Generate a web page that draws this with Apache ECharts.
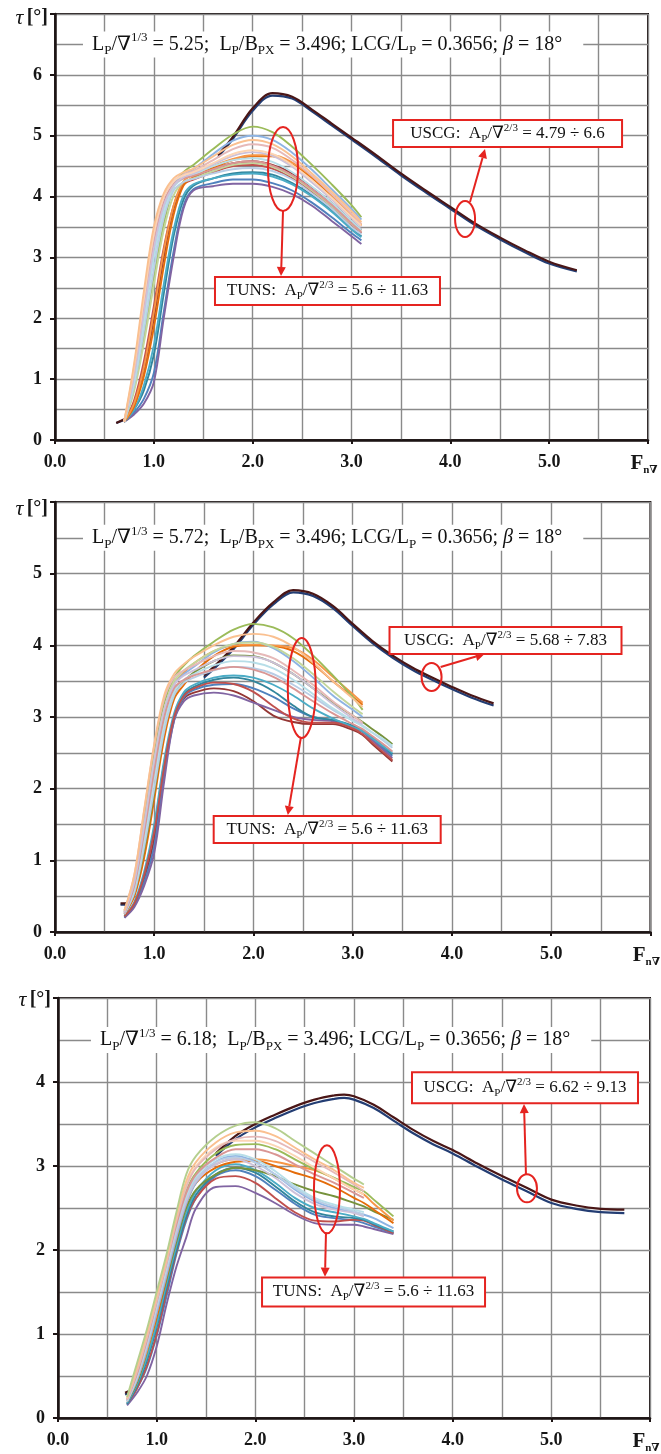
<!DOCTYPE html>
<html><head><meta charset="utf-8">
<script src="https://cdn.jsdelivr.net/npm/echarts@6/dist/echarts.min.js"></script>
<style>html,body{margin:0;padding:0;background:#fff}#c{width:661px;height:1454px}</style>
</head><body><div id="c"></div>
<script>
// ---------------- DATA ----------------
const xTicksLabels = ['0.0','1.0','2.0','3.0','4.0','5.0'];
const lpRatios = ['5.25','5.72','6.18'];
const uscgRanges = ['4.79 ÷ 6.6','5.68 ÷ 7.83','6.62 ÷ 9.13'];
const tunsRange = '5.6 ÷ 11.63';

// Panel 1 (Lp/V^1/3 = 5.25)
const X1 = [0.7,0.8,0.9,1.0,1.1,1.2,1.3,1.4,1.6,1.8,2.0,2.2,2.4,2.6,2.8,3.0,3.1];
const T1 = [
 [0.3,0.6,1.15,2.0,3.0,3.8,4.2,4.3,4.45,4.55,4.58,4.52,4.38,4.15,3.9,3.6,3.45],
 [0.3,0.45,0.68,1.1,2.1,3.1,3.85,4.12,4.22,4.28,4.28,4.22,4.1,3.9,3.66,3.4,3.28],
 [0.3,0.42,0.6,0.95,2.0,3.0,3.8,4.1,4.17,4.21,4.21,4.16,4.04,3.85,3.6,3.35,3.22],
 [0.3,0.5,0.82,1.4,2.4,3.35,3.95,4.18,4.3,4.38,4.4,4.36,4.22,4.02,3.78,3.48,3.35],
 [0.3,0.5,0.9,1.55,2.55,3.45,4.02,4.2,4.3,4.36,4.38,4.33,4.2,4.0,3.75,3.46,3.33],
 [0.3,0.65,1.3,2.2,3.15,3.85,4.2,4.28,4.4,4.5,4.52,4.46,4.3,4.08,3.82,3.52,3.4],
 [0.3,0.55,1.05,1.85,2.85,3.7,4.18,4.32,4.47,4.6,4.66,4.66,4.53,4.3,4.0,3.68,3.52],
 [0.3,0.6,1.2,2.1,3.1,3.85,4.25,4.36,4.5,4.62,4.68,4.68,4.56,4.33,4.03,3.7,3.54],
 [0.3,0.85,1.7,2.7,3.55,4.15,4.4,4.52,4.78,5.02,5.15,5.06,4.82,4.52,4.2,3.86,3.66],
 [0.3,1.0,2.0,3.0,3.75,4.2,4.36,4.45,4.7,4.92,5.0,4.93,4.72,4.44,4.12,3.8,3.62],
 [0.3,0.8,1.6,2.55,3.45,4.02,4.24,4.3,4.42,4.52,4.55,4.49,4.33,4.1,3.84,3.55,3.42],
 [0.3,0.9,1.8,2.8,3.65,4.1,4.24,4.29,4.38,4.45,4.47,4.42,4.28,4.05,3.8,3.5,3.38],
 [0.3,0.95,1.95,3.0,3.75,4.15,4.3,4.36,4.5,4.6,4.63,4.57,4.4,4.16,3.9,3.6,3.45],
 [0.3,1.1,2.2,3.25,3.9,4.2,4.3,4.34,4.45,4.55,4.58,4.51,4.35,4.12,3.86,3.56,3.42],
 [0.3,1.05,2.1,3.15,3.85,4.18,4.32,4.38,4.53,4.67,4.73,4.67,4.49,4.23,3.95,3.65,3.5],
 [0.3,1.15,2.3,3.35,3.98,4.25,4.36,4.42,4.6,4.78,4.86,4.8,4.6,4.34,4.04,3.72,3.55],
 [0.3,1.2,2.35,3.4,4.0,4.25,4.35,4.4,4.55,4.7,4.76,4.7,4.52,4.27,3.98,3.67,3.52],
 [0.3,1.25,2.45,3.5,4.05,4.3,4.4,4.46,4.66,4.85,4.93,4.86,4.66,4.38,4.08,3.76,3.58]
];
const U1X = [0.62,0.7,1.0,1.65,1.8,2.0,2.2,2.4,2.6,2.8,3.0,3.25,3.5,3.75,4.0,4.25,4.5,4.75,5.0,5.28];
const U1A = [0.28,0.34,null,4.68,4.98,5.45,5.70,5.64,5.43,5.2,4.97,4.68,4.38,4.1,3.83,3.56,3.33,3.12,2.93,2.79];
const U1B = [0.28,0.33,null,4.65,4.95,5.41,5.66,5.61,5.4,5.17,4.94,4.65,4.35,4.07,3.8,3.53,3.3,3.09,2.9,2.77];

// Panel 2 (Lp/V^1/3 = 5.72)
const X2 = [0.7,0.8,0.9,1.0,1.1,1.2,1.3,1.4,1.6,1.8,2.0,2.2,2.4,2.6,2.8,3.0,3.1,3.2,3.3,3.4];
const T2 = [
 [0.21,0.38,0.75,1.3,2.25,2.98,3.26,3.34,3.4,3.36,3.22,3.02,2.93,2.9,2.9,2.82,2.75,2.62,2.5,2.38],
 [0.2,0.38,0.7,1.2,2.2,2.95,3.28,3.38,3.45,3.46,3.4,3.28,3.12,3.0,2.95,2.86,2.8,2.68,2.57,2.46],
 [0.2,0.35,0.65,1.1,2.1,2.95,3.22,3.3,3.34,3.3,3.2,3.1,3.0,2.96,2.94,2.86,2.79,2.67,2.55,2.43],
 [0.22,0.4,0.8,1.45,2.35,3.0,3.32,3.42,3.52,3.55,3.5,3.36,3.16,3.0,2.96,2.88,2.81,2.71,2.6,2.48],
 [0.22,0.42,0.85,1.5,2.4,3.05,3.35,3.45,3.55,3.58,3.55,3.45,3.3,3.12,2.98,2.86,2.8,2.7,2.6,2.5],
 [0.22,0.4,0.8,1.4,2.3,3.0,3.3,3.4,3.48,3.46,3.35,3.15,2.98,2.92,2.92,2.84,2.76,2.64,2.52,2.4],
 [0.25,0.5,1.05,1.85,2.7,3.25,3.45,3.62,3.85,3.98,4.0,3.99,3.92,3.74,3.5,3.28,3.17],
 [0.28,0.65,1.4,2.25,3.0,3.45,3.62,3.75,3.92,4.0,4.01,4.0,3.96,3.8,3.56,3.32,3.2],
 [0.25,0.55,1.15,1.95,2.8,3.3,3.5,3.62,3.78,3.86,3.85,3.76,3.6,3.4,3.2,3.02,2.93,2.83,2.73,2.62],
 [0.3,0.75,1.6,2.5,3.2,3.55,3.72,3.85,4.05,4.22,4.3,4.25,4.1,3.86,3.58,3.28,3.1],
 [0.28,0.7,1.5,2.35,3.05,3.45,3.6,3.7,3.9,4.02,4.05,3.96,3.78,3.55,3.3,3.1,3.0],
 [0.28,0.7,1.5,2.4,3.1,3.5,3.65,3.75,3.92,4.02,4.04,3.98,3.82,3.6,3.36,3.14,3.04],
 [0.25,0.55,1.2,2.0,2.8,3.3,3.48,3.55,3.65,3.7,3.68,3.6,3.45,3.28,3.1,2.95,2.88,2.78,2.68,2.57],
 [0.26,0.6,1.3,2.15,2.9,3.35,3.52,3.6,3.72,3.78,3.76,3.68,3.52,3.32,3.12,2.95,2.87,2.78,2.7,2.6],
 [0.26,0.65,1.4,2.25,3.0,3.4,3.52,3.58,3.66,3.7,3.66,3.56,3.4,3.22,3.05,2.9,2.83,2.73,2.63,2.52],
 [0.27,0.7,1.5,2.4,3.1,3.45,3.58,3.65,3.78,3.85,3.84,3.76,3.6,3.4,3.18,2.98,2.9],
 [0.3,0.8,1.7,2.6,3.25,3.55,3.65,3.72,3.85,3.92,3.9,3.82,3.65,3.45,3.22,3.02,2.92],
 [0.3,0.8,1.72,2.62,3.3,3.6,3.74,3.84,4.0,4.12,4.16,4.12,3.98,3.76,3.5,3.26,3.14]
];
const U2X = [0.66,0.72,1.0,1.5,1.6,1.8,2.0,2.2,2.4,2.6,2.8,3.0,3.2,3.4,3.6,3.8,4.0,4.2,4.42];
const U2A = [0.4,0.4,null,3.58,3.7,3.98,4.32,4.6,4.77,4.72,4.55,4.3,4.06,3.86,3.69,3.55,3.42,3.3,3.19];
const U2B = [0.38,0.38,null,3.55,3.67,3.95,4.29,4.57,4.74,4.69,4.52,4.27,4.03,3.83,3.66,3.52,3.39,3.27,3.16];

// Panel 3 (Lp/V^1/3 = 6.18)
const X3 = [0.7,0.8,0.9,1.0,1.1,1.2,1.3,1.4,1.6,1.8,2.0,2.2,2.4,2.6,2.8,3.0,3.1,3.2,3.3,3.4];
const T3 = [
 [0.15,0.3,0.5,0.85,1.35,1.8,2.15,2.5,2.75,2.76,2.68,2.56,2.42,2.32,2.3,2.3,2.28,2.25,2.22,2.19],
 [0.16,0.35,0.6,0.98,1.45,1.95,2.35,2.62,2.88,2.95,2.88,2.72,2.55,2.42,2.38,2.35,2.32,2.28,2.24,2.2],
 [0.17,0.35,0.62,1.0,1.5,1.98,2.38,2.62,2.85,2.88,2.8,2.62,2.45,2.35,2.34,2.36,2.35,2.3,2.25,2.2],
 [0.17,0.38,0.68,1.08,1.55,2.0,2.4,2.66,2.9,2.98,2.92,2.76,2.58,2.45,2.4,2.38,2.36,2.31,2.26,2.22],
 [0.18,0.4,0.72,1.12,1.6,2.05,2.45,2.7,2.95,3.02,2.95,2.8,2.62,2.5,2.45,2.4,2.37,2.32,2.27,2.22],
 [0.2,0.42,0.78,1.2,1.65,2.1,2.5,2.72,2.9,2.98,2.95,2.88,2.78,2.7,2.64,2.56,2.52,2.46,2.41,2.36],
 [0.2,0.45,0.8,1.2,1.68,2.15,2.55,2.8,2.98,3.05,3.06,3.0,2.92,2.85,2.75,2.62,2.56,2.48,2.4,2.32],
 [0.2,0.45,0.8,1.25,1.72,2.2,2.6,2.85,3.02,3.08,3.08,3.05,3.0,2.95,2.85,2.72,2.66,2.55,2.45,2.35],
 [0.22,0.5,0.9,1.35,1.8,2.3,2.7,2.92,3.15,3.25,3.26,3.2,3.08,2.96,2.86,2.75,2.7,2.6,2.5,2.4],
 [0.2,0.45,0.82,1.25,1.7,2.15,2.55,2.8,3.05,3.12,3.05,2.9,2.72,2.58,2.5,2.45,2.42,2.38,2.32,2.26],
 [0.2,0.48,0.85,1.3,1.75,2.2,2.58,2.82,3.02,3.08,3.0,2.86,2.68,2.55,2.48,2.44,2.4],
 [0.2,0.48,0.88,1.32,1.78,2.25,2.62,2.85,3.05,3.1,3.04,2.9,2.74,2.6,2.52,2.46,2.42],
 [0.21,0.5,0.9,1.35,1.8,2.28,2.65,2.88,3.08,3.14,3.08,2.94,2.76,2.62,2.54,2.48,2.45],
 [0.22,0.52,0.92,1.38,1.84,2.3,2.68,2.9,3.1,3.2,3.2,3.14,3.02,2.9,2.8,2.68,2.62],
 [0.23,0.58,0.98,1.42,1.88,2.38,2.78,3.0,3.22,3.3,3.3,3.24,3.12,2.98,2.85,2.72,2.66],
 [0.22,0.55,0.95,1.4,1.85,2.35,2.75,2.98,3.2,3.32,3.35,3.3,3.18,3.05,2.92,2.78,2.7],
 [0.24,0.6,1.0,1.45,1.9,2.4,2.82,3.05,3.28,3.4,3.42,3.36,3.22,3.08,2.95,2.8,2.74],
 [0.25,0.65,1.05,1.5,1.95,2.45,2.9,3.12,3.35,3.48,3.52,3.45,3.3,3.15,3.0,2.85,2.78]
];
const U3X = [0.68,0.72,1.0,1.6,1.8,2.0,2.2,2.4,2.6,2.8,2.9,3.0,3.2,3.4,3.6,3.8,4.0,4.25,4.5,4.75,5.0,5.25,5.5,5.74];
const U3A = [0.3,0.32,null,3.15,3.36,3.5,3.61,3.71,3.79,3.84,3.85,3.83,3.73,3.58,3.43,3.3,3.19,3.03,2.88,2.74,2.6,2.53,2.49,2.48];
const U3B = [0.28,0.3,null,3.12,3.32,3.46,3.57,3.67,3.75,3.8,3.81,3.79,3.69,3.54,3.39,3.26,3.15,2.99,2.84,2.7,2.56,2.49,2.45,2.44];

// ---------------- STYLES ----------------
const TC1 = ['#953735','#4F81BD','#8064A2','#31859C','#4BACC6','#C0504D','#E46C0A','#F79646','#9BBB59','#8EB4E3','#C3D69B','#B9CDE5','#B7DEE8','#DA9694','#CCC1DA','#E6B9B8','#FCD5B5','#FAC090'];
const TC2 = ['#953735','#4F81BD','#8064A2','#31859C','#4BACC6','#C0504D','#E46C0A','#F79646','#76923C','#9BBB59','#8EB4E3','#C3D69B','#B9CDE5','#B7DEE8','#DA9694','#CCC1DA','#E6B9B8','#FAC090'];
const TC3 = ['#8064A2','#4F81BD','#C0504D','#31859C','#4BACC6','#76923C','#E46C0A','#F79646','#9BBB59','#8EB4E3','#CCC1DA','#B9CDE5','#B7DEE8','#DA9694','#FCD5B5','#E6B9B8','#FAC090','#B5CF8E'];
const SERIF = "'Liberation Serif','DejaVu Serif','Times New Roman',serif";
const RED = '#E52420';
const INK = '#1c1414';

const PANELS = [
  {x:X1, t:T1, c:TC1, ux:U1X, ua:U1A, ub:U1B},
  {x:X2, t:T2, c:TC2, ux:U2X, ua:U2A, ub:U2B},
  {x:X3, t:T3, c:TC3, ux:U3X, ua:U3A, ub:U3B}
];
const GRIDS = [
  {left:55, top:14, width:593, height:426, ymax:7, nameGap:-4},
  {left:55, top:502, width:596, height:430, ymax:6, nameGap:-7},
  {left:58, top:998, width:592, height:428, ymax:5, nameGap:-2}
];
// annotation placement (data coordinates of each panel; sizes in px)
const ANN = [
 {tx:0.283, ty:6.5, tEll:[2.307,4.453,15,42], tArr:[2.307,3.763,2.287,2.695], tBox:[2.757,2.448,225,28],
  uEll:[4.149,3.631,10,18], uArr:[4.199,3.911,4.351,4.781], uBox:[4.579,5.036,229,27]},
 {tx:0.282, ty:5.5, tEll:[2.487,3.405,14,50], tArr:[2.477,2.707,2.346,1.632], tBox:[2.743,1.43,227,27],
  uEll:[3.795,3.558,10,14], uArr:[3.886,3.697,4.329,3.879], uBox:[4.54,4.067,232,27]},
 {tx:0.334, ty:4.5, tEll:[2.726,2.722,13,44], tArr:[2.716,2.208,2.706,1.682], tBox:[3.198,1.501,223,29],
  uEll:[4.753,2.734,10,14], uArr:[4.743,2.897,4.723,3.738], uBox:[4.733,3.931,226,31]}
];

function pts(xs, ys){ const o=[]; for(let i=0;i<ys.length;i++){ if(ys[i]!=null) o.push([xs[i], ys[i]]); } return o; }
function ptsGap(xs, ys){ return ys.map((y,i)=> y==null ? [xs[i],'-'] : [xs[i], y]); }

const chart = echarts.init(document.getElementById('c'), null, {renderer:'canvas'});
const gridLine = {show:true, lineStyle:{color:'#8a8a8a', width:1.4}};
const grid=[], xAxis=[], yAxis=[], series=[];
GRIDS.forEach((g,i)=>{
  grid.push({left:g.left, top:g.top, width:g.width, height:g.height, show:true, borderColor:INK, borderWidth:2, containLabel:false});
  xAxis.push({gridIndex:i, type:'value', min:0, max:6, interval:1,
    axisLine:{show:true, onZero:false, lineStyle:{color:INK, width:2.5}},
    axisTick:{show:true, length:4, lineStyle:{color:INK, width:2}},
    axisLabel:{margin:13, color:'#161616', fontFamily:SERIF, fontWeight:'bold', fontSize:18,
      formatter:v=> xTicksLabels[Math.round(v)] || ''},
    splitLine:gridLine, minorTick:{show:false, splitNumber:2}, minorSplitLine:gridLine,
    name:'{f|F}{s|n∇}', nameLocation:'end', nameGap:-4,
    nameTextStyle:{align:'center', verticalAlign:'top', padding:[12,0,0,0],
      rich:{f:{fontFamily:SERIF, fontWeight:'bold', fontSize:21, color:'#161616', lineHeight:24},
            s:{fontFamily:SERIF, fontWeight:'bold', fontSize:11, color:'#161616', lineHeight:12, verticalAlign:'bottom'}}}
  });
  yAxis.push({gridIndex:i, type:'value', min:0, max:g.ymax, interval:1,
    axisLine:{show:true, lineStyle:{color:INK, width:2.5}},
    axisTick:{show:true, length:5, lineStyle:{color:INK, width:2}},
    axisLabel:{margin:13, color:'#161616', fontFamily:SERIF, fontWeight:'bold', fontSize:18,
      formatter:v=> v>=g.ymax ? '' : String(v)},
    splitLine:gridLine, minorTick:{show:false, splitNumber:2}, minorSplitLine:gridLine,
    name:'{t|τ} {b|[°]}', nameLocation:'end', nameGap:g.nameGap,
    nameTextStyle:{align:'right', verticalAlign:'middle', padding:[0,7,0,0],
      rich:{t:{fontFamily:SERIF, fontStyle:'italic', fontSize:22, color:'#161616'},
            b:{fontFamily:SERIF, fontWeight:'bold', fontSize:20, color:'#161616'}}}
  });
  const P = PANELS[i];
  series.push({type:'line', xAxisIndex:i, yAxisIndex:i, data:ptsGap(P.ux,P.ub), symbol:'none', smooth:0.35, silent:true, z:2,
    connectNulls:false, lineStyle:{color:'#233d73', width:2.2}});
  series.push({type:'line', xAxisIndex:i, yAxisIndex:i, data:ptsGap(P.ux,P.ua), symbol:'none', smooth:0.35, silent:true, z:2,
    connectNulls:false, lineStyle:{color:'#4a1616', width:2.2}});
  P.t.forEach((ys,k)=>{
    series.push({type:'line', xAxisIndex:i, yAxisIndex:i, data:pts(P.x,ys), symbol:'none', smooth:0.35, silent:true, z:3,
      lineStyle:{color:P.c[k % P.c.length], width:1.9}});
  });
});

chart.setOption({animation:false, backgroundColor:'#fff', grid, xAxis, yAxis, series});

// ---------------- ANNOTATIONS ----------------
const richBox = {
  n:{fontFamily:SERIF, fontSize:17, lineHeight:22, fill:'#111', color:'#111'},
  s:{fontFamily:SERIF, fontSize:11, lineHeight:12, verticalAlign:'bottom', fill:'#111', color:'#111'},
  p:{fontFamily:SERIF, fontSize:11, lineHeight:12, verticalAlign:'top', fill:'#111', color:'#111'}
};
const richTitle = {
  n:{fontFamily:SERIF, fontSize:20, lineHeight:26, fill:'#111', color:'#111'},
  i:{fontFamily:SERIF, fontStyle:'italic', fontSize:20, lineHeight:26, fill:'#111', color:'#111'},
  s:{fontFamily:SERIF, fontSize:13, lineHeight:15, verticalAlign:'bottom', fill:'#111', color:'#111'},
  p:{fontFamily:SERIF, fontSize:13, lineHeight:15, verticalAlign:'top', fill:'#111', color:'#111'}
};
const graphic = [];
function arrow(gi, a){
  const p1 = chart.convertToPixel({gridIndex:gi}, [a[0],a[1]]);
  const p2 = chart.convertToPixel({gridIndex:gi}, [a[2],a[3]]);
  const dx=p2[0]-p1[0], dy=p2[1]-p1[1], L=Math.hypot(dx,dy), ux=dx/L, uy=dy/L;
  const bx=p2[0]-ux*9, by=p2[1]-uy*9;
  graphic.push({type:'line', z:100, shape:{x1:p1[0],y1:p1[1],x2:bx,y2:by}, style:{stroke:RED, lineWidth:2}});
  graphic.push({type:'polygon', z:100, shape:{points:[[p2[0],p2[1]],[bx-uy*4.5,by+ux*4.5],[bx+uy*4.5,by-ux*4.5]]}, style:{fill:RED}});
}
function ell(gi, e){
  const c = chart.convertToPixel({gridIndex:gi}, [e[0],e[1]]);
  graphic.push({type:'ellipse', z:100, shape:{cx:c[0], cy:c[1], rx:e[2], ry:e[3]}, style:{fill:null, stroke:RED, lineWidth:2}});
}
function box(gi, b, text){
  const c = chart.convertToPixel({gridIndex:gi}, [b[0],b[1]]);
  graphic.push({type:'rect', z:101, shape:{x:c[0]-b[2]/2, y:c[1]-b[3]/2, width:b[2], height:b[3]}, style:{fill:'#fff', stroke:RED, lineWidth:2}});
  graphic.push({type:'text', z:102, x:c[0], y:c[1], style:{text:text, rich:richBox, align:'center', verticalAlign:'middle', textAlign:'center', textVerticalAlign:'middle', font:'17px '+SERIF, fill:'#111'}});
}
ANN.forEach((a,gi)=>{
  const tp = chart.convertToPixel({gridIndex:gi}, [a.tx,a.ty]);
  graphic.push({type:'text', z:102, x:tp[0], y:tp[1], style:{
    text:'{n|L}{s|P}{n|/∇}{p|1/3}{n| = '+lpRatios[gi]+';  L}{s|P}{n|/B}{s|PX}{n| = 3.496; LCG/L}{s|P}{n| = 0.3656; }{i|β}{n| = 18°}',
    rich:richTitle, align:'left', verticalAlign:'middle', textAlign:'left', textVerticalAlign:'middle',
    backgroundColor:'#fff', padding:[0,21,0,9], font:'20px '+SERIF, fill:'#111'}});
  arrow(gi, a.tArr); ell(gi, a.tEll); box(gi, a.tBox, '{n|TUNS:  A}{s|P}{n|/∇}{p|2/3}{n| = '+tunsRange+'}');
  arrow(gi, a.uArr); ell(gi, a.uEll); box(gi, a.uBox, '{n|USCG:  A}{s|P}{n|/∇}{p|2/3}{n| = '+uscgRanges[gi]+'}');
});
chart.setOption({graphic:graphic});
</script></body></html>
